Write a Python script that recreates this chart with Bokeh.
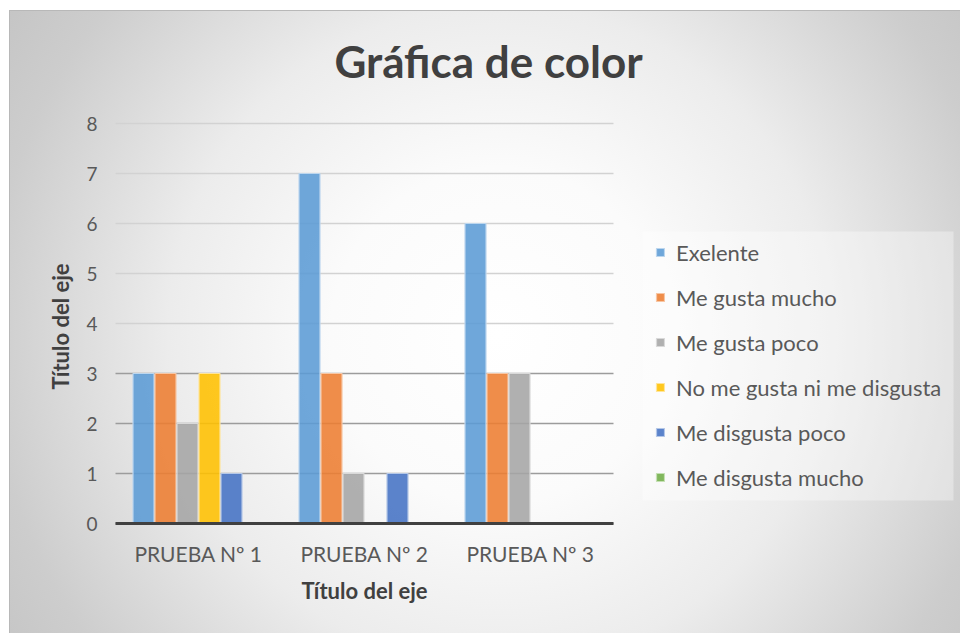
from math import pi
from bokeh.plotting import figure
from bokeh.models import Range1d, FixedTicker, Legend, LegendItem, Label, Grid, BoxAnnotation
from bokeh.transform import dodge
from bokeh.core.properties import value
from bokeh.embed import file_html
from bokeh.resources import INLINE

# ---- data ----
categories = ["PRUEBA Nº 1", "PRUEBA Nº 2", "PRUEBA Nº 3"]
series_names = ["Exelente", "Me gusta mucho", "Me gusta poco",
                "No me gusta ni me disgusta", "Me disgusta poco", "Me disgusta mucho"]
exelente = [3, 7, 6]
me_gusta_mucho = [3, 3, 3]
me_gusta_poco = [2, 1, 3]
ni_gusta_ni_disgusta = [3, 0, 0]
me_disgusta_poco = [1, 1, 0]
me_disgusta_mucho = [0, 0, 0]
y_ticks = [0, 1, 2, 3, 4, 5, 6, 7, 8]
title_text = "Gráfica de color"
axis_title = "Título del eje"

series_values = [exelente, me_gusta_mucho, me_gusta_poco,
                 ni_gusta_ni_disgusta, me_disgusta_poco, me_disgusta_mucho]
fill_colors = ["#5B9BD5", "#ED7D31", "#A5A5A5", "#FFC000", "#4472C4", "#70AD47"]
edge_colors = ["#bcd6ee", "#f7c6a4", "#d9d9d9", "#ffe599", "#b4c7e7", "#c5e0b4"]

FONT = "Lato"
W, H = 960, 633
ORIGIN_X, ORIGIN_Y = 115, 523       # pixel position of (0, 0) on the canvas
CAT_PX = 166                        # pixels per category
UNIT_PX = 50                        # pixels per y unit

n_cat = len(categories)
cat_pos = [i + 0.5 for i in range(n_cat)]

p = figure(width=W, height=H,
           x_range=Range1d(-ORIGIN_X / CAT_PX, (W - ORIGIN_X) / CAT_PX),
           y_range=Range1d(-(H - ORIGIN_Y) / UNIT_PX, ORIGIN_Y / UNIT_PX),
           x_axis_type=None, y_axis_type=None, title_location=None,
           output_backend="svg", toolbar_location=None, min_border=0)
p.border_fill_color = None
p.background_fill_color = None
p.outline_line_color = None
p.styles = {
    "background": (
        "linear-gradient(#ffffff,#ffffff) 0 0/100% 10px no-repeat,"
        "linear-gradient(#ffffff,#ffffff) 0 0/9px 100% no-repeat,"
        "linear-gradient(#b8b8b8,#b8b8b8) 9px 10px/100% 1px no-repeat,"
        "linear-gradient(#b8b8b8,#b8b8b8) 9px 10px/1px 100% no-repeat,"
        "radial-gradient(circle farthest-corner at 52% 53%, #ffffff 0%, #fbfbfb 28%,"
        " #ececec 55%, #cdcdcd 85%, #c4c4c4 100%)"
    ),
}

# legend panel background
p.add_layout(BoxAnnotation(left=642, right=953, bottom=H - 500, top=H - 231,
                           left_units="screen", right_units="screen",
                           bottom_units="screen", top_units="screen",
                           fill_color="white", fill_alpha=0.35, line_color=None,
                           level="underlay"))

# horizontal gridlines (only across the category area)
low_ticks = [t for t in y_ticks if t <= 3]
high_ticks = [t for t in y_ticks if t > 3]
p.add_layout(Grid(dimension=1, ticker=FixedTicker(ticks=high_ticks), cross_bounds=(0, n_cat),
                  grid_line_color="#d2d2d2", grid_line_width=1.6), "center")
p.add_layout(Grid(dimension=1, ticker=FixedTicker(ticks=low_ticks), cross_bounds=(0, n_cat),
                  grid_line_color="#9c9c9c", grid_line_width=1.6), "center")

data = {"x": cat_pos}
for i, vals in enumerate(series_values):
    data[f"s{i}"] = vals

step = 22 / CAT_PX
legend_items = []
for i, name in enumerate(series_names):
    r = p.vbar(x=dodge("x", (i - 2.5) * step), top=f"s{i}",
               width=21 / CAT_PX, source=data,
               fill_color=fill_colors[i], fill_alpha=0.88,
               line_color=edge_colors[i], line_width=1.2)
    legend_items.append(LegendItem(label=name, renderers=[r]))

# category axis baseline
p.segment(x0=[0], y0=[0], x1=[n_cat], y1=[0], line_color="#404040", line_width=3)

# y tick labels
p.text(x=[0] * len(y_ticks), y=y_ticks, text=[str(t) for t in y_ticks],
       x_offset=-18, text_align="right", text_baseline="middle",
       text_font=value(FONT), text_font_size=value("19px"), text_color="#595959")

# category labels
p.text(x=cat_pos, y=[0] * n_cat, text=categories, y_offset=30,
       text_align="center", text_baseline="middle",
       text_font=value(FONT), text_font_size=value("21px"), text_color="#595959")

# axis titles
p.text(x=[n_cat / 2], y=[0], text=[axis_title], y_offset=67,
       text_align="center", text_baseline="middle",
       text_font=value(FONT), text_font_style="bold",
       text_font_size=value("22px"), text_color="#404040")
p.text(x=[0], y=[(y_ticks[0] + y_ticks[-1]) / 2], text=[axis_title],
       x_offset=-55, y_offset=3, angle=pi / 2,
       text_align="center", text_baseline="middle",
       text_font=value(FONT), text_font_style="bold",
       text_font_size=value("22px"), text_color="#404040")

# chart title
p.add_layout(Label(x=488, y=H - 60, x_units="screen", y_units="screen",
                   text=title_text, text_font=FONT, text_font_style="bold",
                   text_font_size="44px", text_color="#404040",
                   text_align="center", text_baseline="middle"))

legend = Legend(items=legend_items, location=(655, H - 491),
                label_text_font=FONT, label_text_font_size="22px",
                label_text_color="#595959",
                glyph_width=10, glyph_height=10, label_height=28,
                spacing=17, padding=0, margin=0, label_standoff=11,
                background_fill_alpha=0, border_line_color=None)
p.add_layout(legend)

open("out.html", "w").write(file_html(p, INLINE))
